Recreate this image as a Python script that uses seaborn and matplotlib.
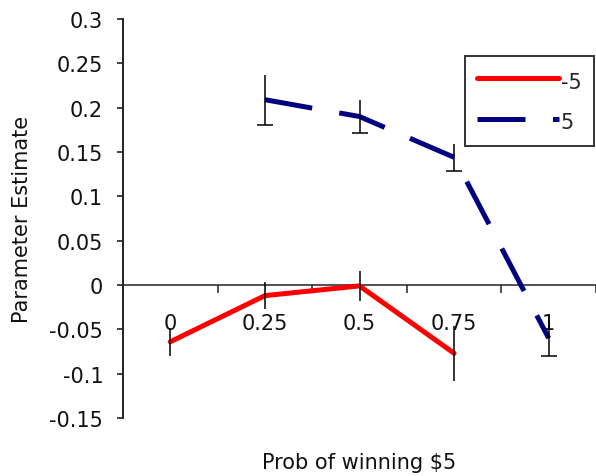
import matplotlib
matplotlib.use("Agg")
import matplotlib.pyplot as plt
import seaborn as sns
import pandas as pd

# Category axis: probability of winning $5
categories = ["0", "0.25", "0.5", "0.75", "1"]

# Parameter estimates and error half-widths for each outcome series
neg5_idx = [0, 1, 2, 3]
neg5_vals = [-0.064, -0.012, -0.001, -0.077]
neg5_err = [0.016, 0.015, 0.017, 0.031]

pos5_idx = [1, 2, 3, 4]
pos5_vals = [0.209, 0.190, 0.144, -0.060]
pos5_err = [0.028, 0.019, 0.015, 0.020]

series_names = ["-5", "5"]

df = pd.concat([
    pd.DataFrame({"x": neg5_idx, "y": neg5_vals, "series": series_names[0]}),
    pd.DataFrame({"x": pos5_idx, "y": pos5_vals, "series": series_names[1]}),
], ignore_index=True)

sns.set_style("white")
plt.rcParams["font.family"] = ["DejaVu Sans"]
FS = 15

fig = plt.figure(figsize=(5.96, 4.77), dpi=100)
ax = fig.add_axes([123 / 596, 1 - 419 / 477, 473 / 596, 399 / 477])

red = "#ff0000"
navy = "#000080"

sns.lineplot(
    data=df, x="x", y="y", hue="series", style="series",
    hue_order=series_names, style_order=series_names,
    palette={"-5": red, "5": navy},
    dashes={"-5": "", "5": (9.6, 5.5)},
    linewidth=3.6, sort=False, estimator=None, ax=ax, zorder=3,
)

# Error bars: plain lines for -5, bottom cap only for 5
ax.vlines(neg5_idx, [v - e for v, e in zip(neg5_vals, neg5_err)],
          [v + e for v, e in zip(neg5_vals, neg5_err)],
          color="black", linewidth=1.1, zorder=4)
ax.vlines(pos5_idx, [v - e for v, e in zip(pos5_vals, pos5_err)],
          [v + e for v, e in zip(pos5_vals, pos5_err)],
          color="black", linewidth=1.1, zorder=4)
ax.plot(pos5_idx, [v - e for v, e in zip(pos5_vals, pos5_err)],
        linestyle="none", marker="_", markersize=11, markeredgewidth=1.1,
        color="black", zorder=4)

ax.set_xlim(-0.5, 4.5)
ax.set_ylim(-0.15, 0.3)
ax.set_yticks([0.3, 0.25, 0.2, 0.15, 0.1, 0.05, 0, -0.05, -0.1, -0.15])
ax.set_yticklabels(["0.3", "0.25", "0.2", "0.15", "0.1", "0.05", "0",
                    "-0.05", "-0.1", "-0.15"])

ax.set_xticks(range(len(categories)))
ax.set_xticklabels(categories)
ax.set_xticks([i - 0.5 for i in range(len(categories) + 1)], minor=True)

for s in ["top", "right"]:
    ax.spines[s].set_visible(False)
ax.spines["bottom"].set_position(("data", 0))
ax.spines["bottom"].set_color("#222222")
ax.spines["bottom"].set_linewidth(1.1)
ax.spines["left"].set_color("#222222")
ax.spines["left"].set_linewidth(1.4)

ax.tick_params(axis="x", which="major", bottom=True, length=0, pad=20,
               labelsize=FS, labelcolor="#111111")
ax.tick_params(axis="x", which="minor", bottom=True, length=5.8, width=1.1,
               direction="out", color="#222222")
ax.tick_params(axis="y", which="major", left=True, length=4.3, width=1.2,
               direction="out", pad=10, labelsize=FS, color="#222222",
               labelcolor="#111111")

ax.set_xlabel("Prob of winning $5", fontsize=FS, color="#111111")
ax.set_ylabel("Parameter Estimate", fontsize=FS, color="#111111")
ax.xaxis.set_label_coords(0.5, -0.085)
ax.yaxis.set_label_coords(-0.192, 0.5)

leg = ax.legend(
    loc="upper right", bbox_to_anchor=(594 / 596, 1 - 57 / 477),
    bbox_transform=fig.transFigure, borderaxespad=0, fancybox=False,
    frameon=True, edgecolor="black", fontsize=FS, handlelength=3.9,
    handleheight=1.45, handletextpad=0.1, labelspacing=0.75, borderpad=0.6,
    title=None,
)
leg.get_frame().set_linewidth(1.4)
for line in leg.get_lines():
    line.set_linewidth(3.6)

fig.savefig("out.png", dpi=100, facecolor="white")
